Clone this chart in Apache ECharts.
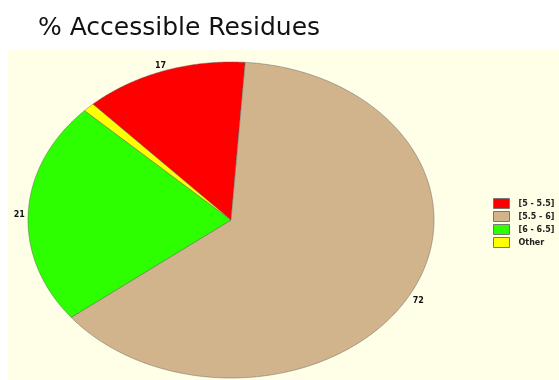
<!DOCTYPE html>
<html><head><meta charset="utf-8">
<script src="https://cdn.jsdelivr.net/npm/echarts@6/dist/echarts.min.js"></script>
<style>html,body{margin:0;padding:0;background:#fff}#c{width:559px;height:380px}</style>
</head><body><div id="c"></div>
<script>
const categories = ['[5 - 5.5]', '[5.5 - 6]', '[6 - 6.5]', 'Other'];
const values = [17, 72, 21, 1];
const showLabel = [true, true, true, false];
const colors = ['#FF0000', '#D2B48C', '#2EFF00', '#FFFF00'];

const chart = echarts.init(document.getElementById('c'));
const CX = 231, CY = 220, RX = 203, RY = 158, START = 310, LABEL_OFF = 9;
const total = values.reduce((a, b) => a + b, 0);
function bounds(i) {
  let before = 0;
  for (let k = 0; k < i; k++) before += values[k];
  return [START + before / total * 360, START + (before + values[i]) / total * 360];
}
function pt(deg) {
  const t = deg * Math.PI / 180, s = Math.sin(t), c = Math.cos(t);
  const r = 1 / Math.sqrt((s / RX) ** 2 + (c / RY) ** 2);
  return [CX + r * s, CY - r * c];
}
function param(deg) {
  const t = deg * Math.PI / 180;
  return Math.atan2(Math.sin(t) / RX, Math.cos(t) / RY);
}
function renderItem(params, api) {
  const i = params.seriesIndex;
  const v = api.value(0);
  const [a0, a1] = bounds(i);
  const pts = [[CX, CY]];
  const steps = Math.max(2, Math.ceil((a1 - a0) / 0.5));
  for (let k = 0; k <= steps; k++) pts.push(pt(a0 + (a1 - a0) * k / steps));
  const children = [{
    type: 'polygon',
    shape: { points: pts },
    style: { fill: api.visual('color'), stroke: 'rgba(90,90,90,0.45)', lineWidth: 1 }
  }];
  if (showLabel[i]) {
    let p0 = param(a0), p1 = param(a1);
    while (p1 <= p0) p1 += Math.PI * 2;
    const pm = (p0 + p1) / 2;
    children.push({
      type: 'text',
      style: {
        x: CX + (RX + LABEL_OFF) * Math.sin(pm),
        y: CY - (RY + LABEL_OFF) * Math.cos(pm) + 3,
        text: String(v),
        fill: '#111',
        font: 'bold 8px "DejaVu Sans"',
        align: 'center',
        verticalAlign: 'middle'
      }
    });
  }
  return { type: 'group', children };
}

chart.setOption({
  animation: false,
  backgroundColor: '#ffffff',
  title: {
    text: '% Accessible Residues',
    left: 33, top: 11,
    textStyle: { fontFamily: 'DejaVu Sans', fontSize: 25, fontWeight: 'normal', color: '#111' }
  },
  graphic: [{
    type: 'rect', left: 8, top: 50, z: -10,
    shape: { width: 551, height: 330 },
    style: { fill: '#FFFFE8' }
  }],
  legend: {
    orient: 'vertical', left: 488, top: 193,
    itemWidth: 16, itemHeight: 10, itemGap: 2, icon: 'rect',
    itemStyle: { borderColor: '#777', borderWidth: 1 },
    textStyle: { fontFamily: 'DejaVu Sans', fontSize: 8, fontWeight: 'bold', color: '#222', padding: [0, 0, 0, 4] },
    data: categories
  },
  series: categories.map((name, i) => ({
    type: 'custom', name, coordinateSystem: 'none',
    data: [values[i]],
    itemStyle: { color: colors[i] },
    renderItem
  }))
});
</script></body></html>
